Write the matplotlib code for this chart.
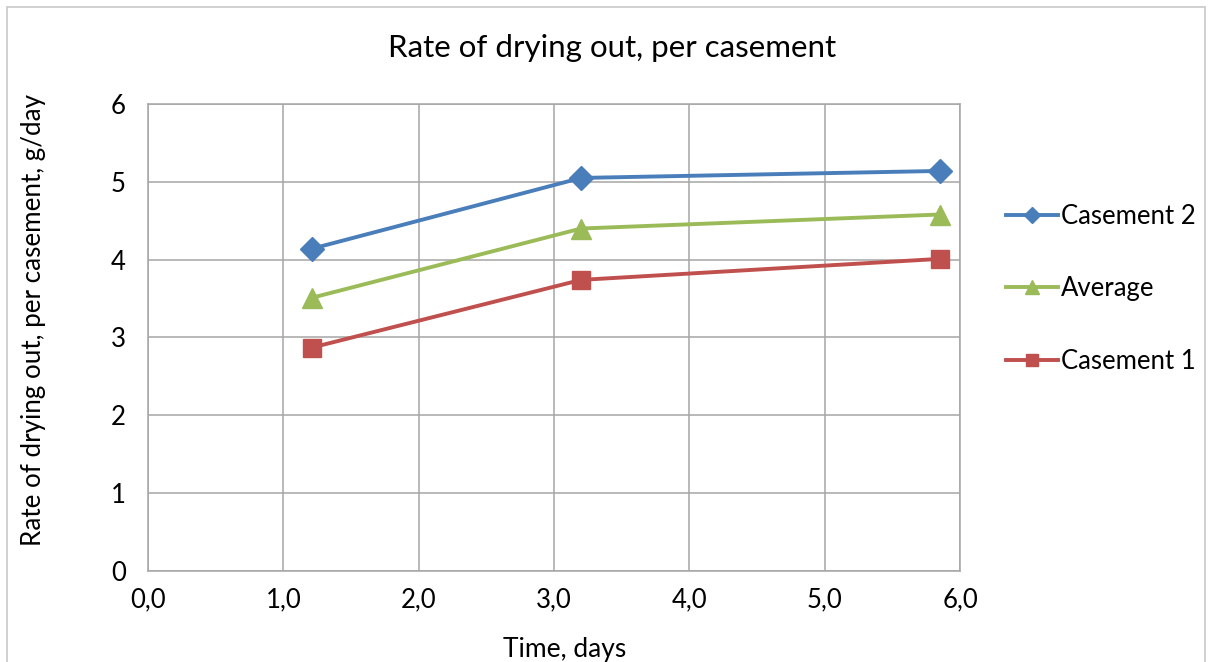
import matplotlib.pyplot as plt
from matplotlib.patches import Rectangle
from matplotlib.ticker import FuncFormatter

plt.rcParams['font.family'] = ['Lato', 'DejaVu Sans']

days_c2 = [1.21, 3.20, 5.85]
rate_c2 = [4.14, 5.05, 5.14]
days_avg = [1.21, 3.20, 5.85]
rate_avg = [3.51, 4.40, 4.58]
days_c1 = [1.21, 3.20, 5.85]
rate_c1 = [2.87, 3.74, 4.01]

fig = plt.figure(figsize=(12.1, 6.62), dpi=100)
ax = fig.add_axes([0.1223, 0.1375, 0.6711, 0.7054])

ax.plot(days_c2, rate_c2, color='#4A7EBB', lw=2.8, marker='D', ms=12, label='Casement 2')
ax.plot(days_avg, rate_avg, color='#9BBB59', lw=2.8, marker='^', ms=14, label='Average')
ax.plot(days_c1, rate_c1, color='#C0504D', lw=2.8, marker='s', ms=13, label='Casement 1')

ax.set_xlim(0, 6)
ax.set_ylim(0, 6)
ax.set_xticks(range(7))
ax.set_yticks(range(7))
ax.xaxis.set_major_formatter(FuncFormatter(lambda v, p: f'{v:.1f}'.replace('.', ',')))
ax.tick_params(length=0, labelsize=18.5, pad=12)
ax.tick_params(axis='y', pad=16)
ax.grid(color='#A6A6A6', lw=1.1)
ax.set_axisbelow(True)
for s in ax.spines.values():
    s.set_color('#A6A6A6')
    s.set_linewidth(1.1)

fig.text(0.506, 0.927, 'Rate of drying out, per casement', ha='center', va='center', fontsize=22.5)
fig.text(0.467, 0.019, 'Time, days', ha='center', va='center', fontsize=19)
fig.text(0.028, 0.517, 'Rate of drying out, per casement, g/day', ha='center', va='center',
         rotation=90, fontsize=18.7)

fig.legend(loc='upper left', bbox_to_anchor=(0.812, 0.727), frameon=False, fontsize=18.5,
           handlelength=2.05, handletextpad=0.1, labelspacing=1.85, markerscale=0.7)

fig.add_artist(Rectangle((0.006, -0.02), 0.99, 1.009, transform=fig.transFigure,
                         fill=False, edgecolor='#C8C8C8', lw=1.2))

fig.savefig('out.png', dpi=100)
